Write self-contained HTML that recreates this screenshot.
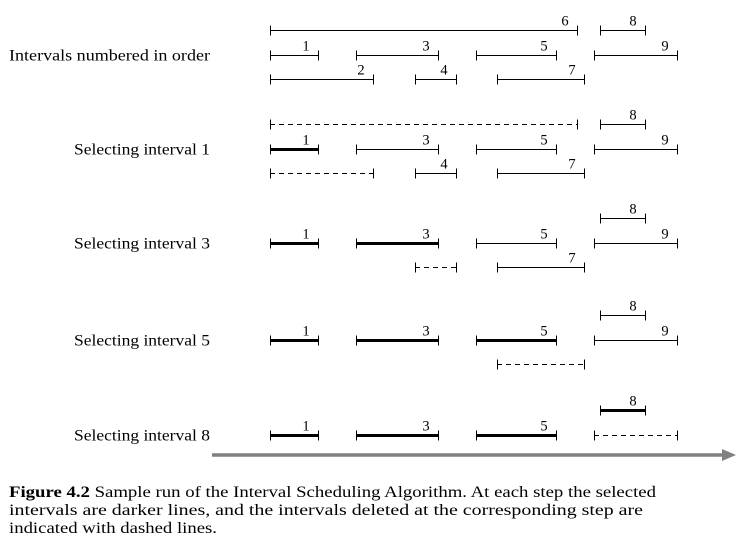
<!DOCTYPE html>
<html><head><meta charset="utf-8"><style>
body{margin:0;background:#fff;}
svg{display:block;font-family:"Liberation Serif",serif;}
</style></head><body>
<svg id="fig" width="742" height="545" viewBox="0 0 742 545" xmlns="http://www.w3.org/2000/svg">
<line x1="212" y1="455" x2="724" y2="455" stroke="#808080" stroke-width="3.5"/>
<polygon points="722,449 736,455 722,461" fill="#808080"/>
<g font-size="15.5" fill="#000">
<text x="9" y="497" textLength="647" lengthAdjust="spacingAndGlyphs"><tspan font-weight="bold">Figure 4.2</tspan>  Sample run of the Interval Scheduling Algorithm. At each step the selected</text>
<text x="9" y="515" textLength="634" lengthAdjust="spacingAndGlyphs">intervals are darker lines, and the intervals deleted at the corresponding step are</text>
<text x="9" y="533" textLength="208" lengthAdjust="spacingAndGlyphs">indicated with dashed lines.</text>
</g>
</svg>
<script>
const ids=[1,2,3,4,5,6,7,8,9];
const starts=[270,270,356,415,476,270,497,600,594];
const ends=[318,373,438,456,556,577,584,645,677];
const rows=[1,2,1,2,1,0,2,0,1];
const blockTitles=["Intervals numbered in order","Selecting interval 1","Selecting interval 3","Selecting interval 5","Selecting interval 8"];
const blockTops=[30,124,218,315,410];
// n=normal, b=bold(selected), d=dashed(deleted), -=absent
const states=[
 "nnnnnnnnn",
 "bdnnndnnn",
 "b-bdn-nnn",
 "b-b-b-dnn",
 "b-b-b--bd"
];
const svg=document.getElementById('fig');
const NS="http://www.w3.org/2000/svg";
function rowY(b,r){return Math.round(blockTops[b]+r*24.5)+0.5;}
function mk(tag,attrs){const e=document.createElementNS(NS,tag);for(const k in attrs)e.setAttribute(k,attrs[k]);svg.appendChild(e);return e;}
blockTitles.forEach((t,b)=>{
 const w=b===0?201:136;
 const e=mk('text',{x:210-w,y:rowY(b,1)+5,'font-size':'15.5',textLength:w,lengthAdjust:'spacingAndGlyphs'});
 e.textContent=t;
 
 
 const s=states[b];
 ids.forEach((id,i)=>{
  const st=s[i]; if(st==='-')return;
  const y=rowY(b,rows[i]);
  const sw=st==='b'?3:1;
  const l=mk('line',{x1:starts[i],y1:y,x2:ends[i],y2:y,stroke:'#000','stroke-width':sw});
  if(st==='d')l.setAttribute('stroke-dasharray','5,4');
  
  
  [starts[i],ends[i]].forEach(x=>{
   const c=mk('line',{x1:x+0.5,y1:y-5,x2:x+0.5,y2:y+5,stroke:'#000','stroke-width':1});
   
   
  });
  if(st==='d')return;
  const tx=mk('text',{x:ends[i]-12,y:y-5,'text-anchor':'middle','font-size':'14.5'});
  tx.textContent=id;
  
  
 });
});
</script>
</body></html>
